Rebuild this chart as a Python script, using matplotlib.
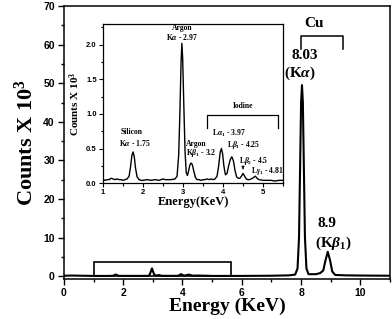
import matplotlib
matplotlib.use("Agg")
import matplotlib.pyplot as plt
from matplotlib.patches import Rectangle
from matplotlib.ticker import MultipleLocator

plt.rcParams["mathtext.fontset"] = "custom"
plt.rcParams["mathtext.rm"] = "Liberation Serif:bold"
plt.rcParams["mathtext.it"] = "Liberation Serif:italic:bold"
plt.rcParams["mathtext.bf"] = "Liberation Serif:bold"

# ---- main spectrum (Counts x 10^3 vs Energy keV) ----
main_energy = [0.0, 0.3, 0.6, 1.0, 1.5, 1.65, 1.75, 1.85, 2.5, 2.85, 2.90, 2.97, 3.04,
               3.11, 3.20, 3.30, 3.85, 3.95, 4.05, 4.22, 4.32, 4.50, 4.81, 5.0, 6.0,
               7.0, 7.6, 7.8, 7.88, 7.93, 7.97, 8.00, 8.03, 8.06, 8.09, 8.13, 8.18,
               8.25, 8.5, 8.65, 8.75, 8.82, 8.90, 8.98, 9.05, 9.15, 9.5, 10.0, 11.0]
main_counts = [0.10, 0.15, 0.10, 0.05, 0.05, 0.08, 0.42, 0.07, 0.06, 0.06, 0.5, 2.0, 0.5,
               0.10, 0.29, 0.08, 0.07, 0.50, 0.12, 0.40, 0.12, 0.15, 0.10, 0.05, 0.05,
               0.10, 0.20, 0.40, 2.0, 10.0, 30.0, 45.0, 49.5, 45.0, 30.0, 10.0, 2.0,
               0.5, 0.5, 0.8, 1.5, 4.0, 6.3, 4.0, 1.2, 0.3, 0.2, 0.15, 0.10]

# ---- inset spectrum (1 - 5.5 keV) ----
inset_energy = [1.00, 1.05, 1.10, 1.15, 1.20, 1.25, 1.30, 1.35, 1.40, 1.45, 1.50, 1.55,
                1.60, 1.65, 1.69, 1.72, 1.75, 1.78, 1.81, 1.85, 1.90, 1.95, 2.00, 2.10,
                2.20, 2.30, 2.40, 2.50, 2.55, 2.60, 2.70, 2.80, 2.85, 2.89, 2.92, 2.95,
                2.97, 2.99, 3.02, 3.05, 3.08, 3.11, 3.14, 3.17, 3.20, 3.23, 3.27, 3.31,
                3.35, 3.40, 3.45, 3.50, 3.55, 3.60, 3.65, 3.70, 3.75, 3.80, 3.85, 3.89,
                3.93, 3.96, 3.99, 4.02, 4.06, 4.10, 4.14, 4.18, 4.22, 4.26, 4.30, 4.34,
                4.38, 4.42, 4.46, 4.50, 4.54, 4.58, 4.62, 4.66, 4.70, 4.74, 4.78, 4.81,
                4.85, 4.90, 5.00, 5.10, 5.20, 5.30, 5.40, 5.50]
inset_counts = [0.05, 0.04, 0.05, 0.05, 0.07, 0.06, 0.05, 0.06, 0.05, 0.05, 0.04, 0.05,
                0.06, 0.10, 0.25, 0.40, 0.45, 0.38, 0.22, 0.09, 0.05, 0.04, 0.04, 0.05,
                0.04, 0.05, 0.04, 0.06, 0.05, 0.05, 0.05, 0.06, 0.10, 0.40, 1.00, 1.75,
                2.02, 1.80, 1.10, 0.45, 0.15, 0.11, 0.18, 0.26, 0.29, 0.27, 0.17, 0.08,
                0.05, 0.05, 0.04, 0.05, 0.05, 0.06, 0.05, 0.06, 0.05, 0.06, 0.10, 0.25,
                0.45, 0.50, 0.42, 0.25, 0.12, 0.14, 0.25, 0.34, 0.38, 0.32, 0.18, 0.09,
                0.07, 0.07, 0.10, 0.14, 0.10, 0.06, 0.05, 0.05, 0.06, 0.07, 0.09, 0.10,
                0.07, 0.05, 0.04, 0.04, 0.04, 0.03, 0.04, 0.04]

main_xticks = [0, 2, 4, 6, 8, 10]
main_yticks = [0, 10, 20, 30, 40, 50, 60, 70]
inset_xticks = [1, 2, 3, 4, 5]
inset_yticks = [0.0, 0.5, 1.0, 1.5, 2.0]

SERIF = "Liberation Serif"
SANS = "Liberation Sans"

fig = plt.figure(figsize=(3.92, 3.19), dpi=100)
ax = fig.add_axes([0.163, 0.125, 0.832, 0.856])
ax.plot(main_energy, main_counts, color="black", lw=1.5)
ax.set_xlim(0, 11)
ax.set_ylim(-0.78, 70)
ax.set_xticks(main_xticks)
ax.set_yticks(main_yticks)
ax.xaxis.set_minor_locator(MultipleLocator(1))
ax.yaxis.set_minor_locator(MultipleLocator(5))
ax.tick_params(which="both", direction="out", top=False, right=False, width=1.0, pad=2.5)
ax.tick_params(which="major", length=4)
ax.tick_params(which="minor", length=2.5)
for lab in ax.get_xticklabels() + ax.get_yticklabels():
    lab.set_fontfamily(SANS)
    lab.set_fontweight("bold")
    lab.set_fontsize(7.5)
for s in ax.spines.values():
    s.set_linewidth(1.1)
ax.set_xlabel("Energy (KeV)", fontfamily=SERIF, fontweight="bold", fontsize=14, labelpad=0)
ax.set_ylabel("Counts X 10$^3$", fontfamily=SERIF, fontweight="bold", fontsize=16, labelpad=4)

# rectangle marking the inset region
ax.add_patch(Rectangle((1.0, 0.0), 4.65, 3.55, fill=False, edgecolor="black", lw=1.2))

# Cu annotations
ax.text(8.42, 65.5, "Cu", fontfamily=SERIF, fontweight="bold", fontsize=11, ha="center", va="center")
ax.plot([8.0, 8.0, 9.4, 9.4], [58.8, 62.2, 62.2, 58.8], color="black", lw=1.1)
ax.text(8.12, 57.3, "8.03", fontfamily=SERIF, fontweight="bold", fontsize=11, ha="center", va="center")
ax.text(7.95, 52.5, r"(K$\alpha$)", fontfamily=SERIF, fontweight="bold", fontsize=11, ha="center", va="center")
ax.text(8.87, 13.7, "8.9", fontfamily=SERIF, fontweight="bold", fontsize=11, ha="center", va="center")
ax.text(9.1, 8.5, r"(K$\beta_1$)", fontfamily=SERIF, fontweight="bold", fontsize=11, ha="center", va="center")

# ---- inset ----
ins = fig.add_axes([0.263, 0.426, 0.459, 0.499])
ins.plot(inset_energy, inset_counts, color="black", lw=1.0)
ins.set_xlim(1.0, 5.5)
ins.set_ylim(0.0, 2.3)
ins.set_xticks(inset_xticks)
ins.set_yticks(inset_yticks)
ins.set_yticklabels(["0.0", "0.5", "1.0", "1.5", "2.0"])
ins.xaxis.set_minor_locator(MultipleLocator(0.5))
ins.yaxis.set_minor_locator(MultipleLocator(0.25))
ins.tick_params(which="both", direction="out", top=False, right=False, width=0.8, pad=1.5)
ins.tick_params(which="major", length=3)
ins.tick_params(which="minor", length=1.8)
for lab in ins.get_xticklabels() + ins.get_yticklabels():
    lab.set_fontfamily(SANS)
    lab.set_fontweight("bold")
    lab.set_fontsize(5.5)
for s in ins.spines.values():
    s.set_linewidth(0.9)
ins.set_xlabel("Energy(KeV)", fontfamily=SERIF, fontweight="bold", fontsize=9, labelpad=0)
ins.set_ylabel("Counts X 10$^3$", fontfamily=SERIF, fontweight="bold", fontsize=8, labelpad=3)

tk = dict(fontfamily=SERIF, fontweight="bold", fontsize=5.5, va="center")
ins.text(1.72, 0.74, "Silicon", ha="center", **tk)
ins.text(1.78, 0.58, r"K$\alpha$ - 1.75", ha="center", **tk)
ins.text(2.97, 2.24, "Argon", ha="center", **tk)
ins.text(2.97, 2.11, r"K$\alpha$ - 2.97", ha="center", **tk)
ins.text(3.07, 0.57, "Argon", ha="left", **tk)
ins.text(3.07, 0.44, r"K$\beta_1$ - 3.2", ha="left", **tk)
ins.text(3.72, 0.72, r"L$\alpha_1$ - 3.97", ha="left", **tk)
ins.text(4.10, 0.55, r"L$\beta_1$ - 4.25", ha="left", **tk)
ins.text(4.39, 0.32, r"L$\beta_2$ - 4.5", ha="left", **tk)
ins.text(4.70, 0.17, r"L$\gamma_1$ - 4.81", ha="left", **tk)
ins.annotate("", xy=(4.5, 0.16), xytext=(4.5, 0.25),
             arrowprops=dict(arrowstyle="-|>", color="black", lw=0.6, mutation_scale=4))
ins.plot([3.59, 3.59, 5.38, 5.38], [0.80, 0.99, 0.99, 0.80], color="black", lw=0.9)
ins.text(4.5, 1.11, "Iodine", ha="center", **tk)

fig.savefig("out.png", dpi=100)
